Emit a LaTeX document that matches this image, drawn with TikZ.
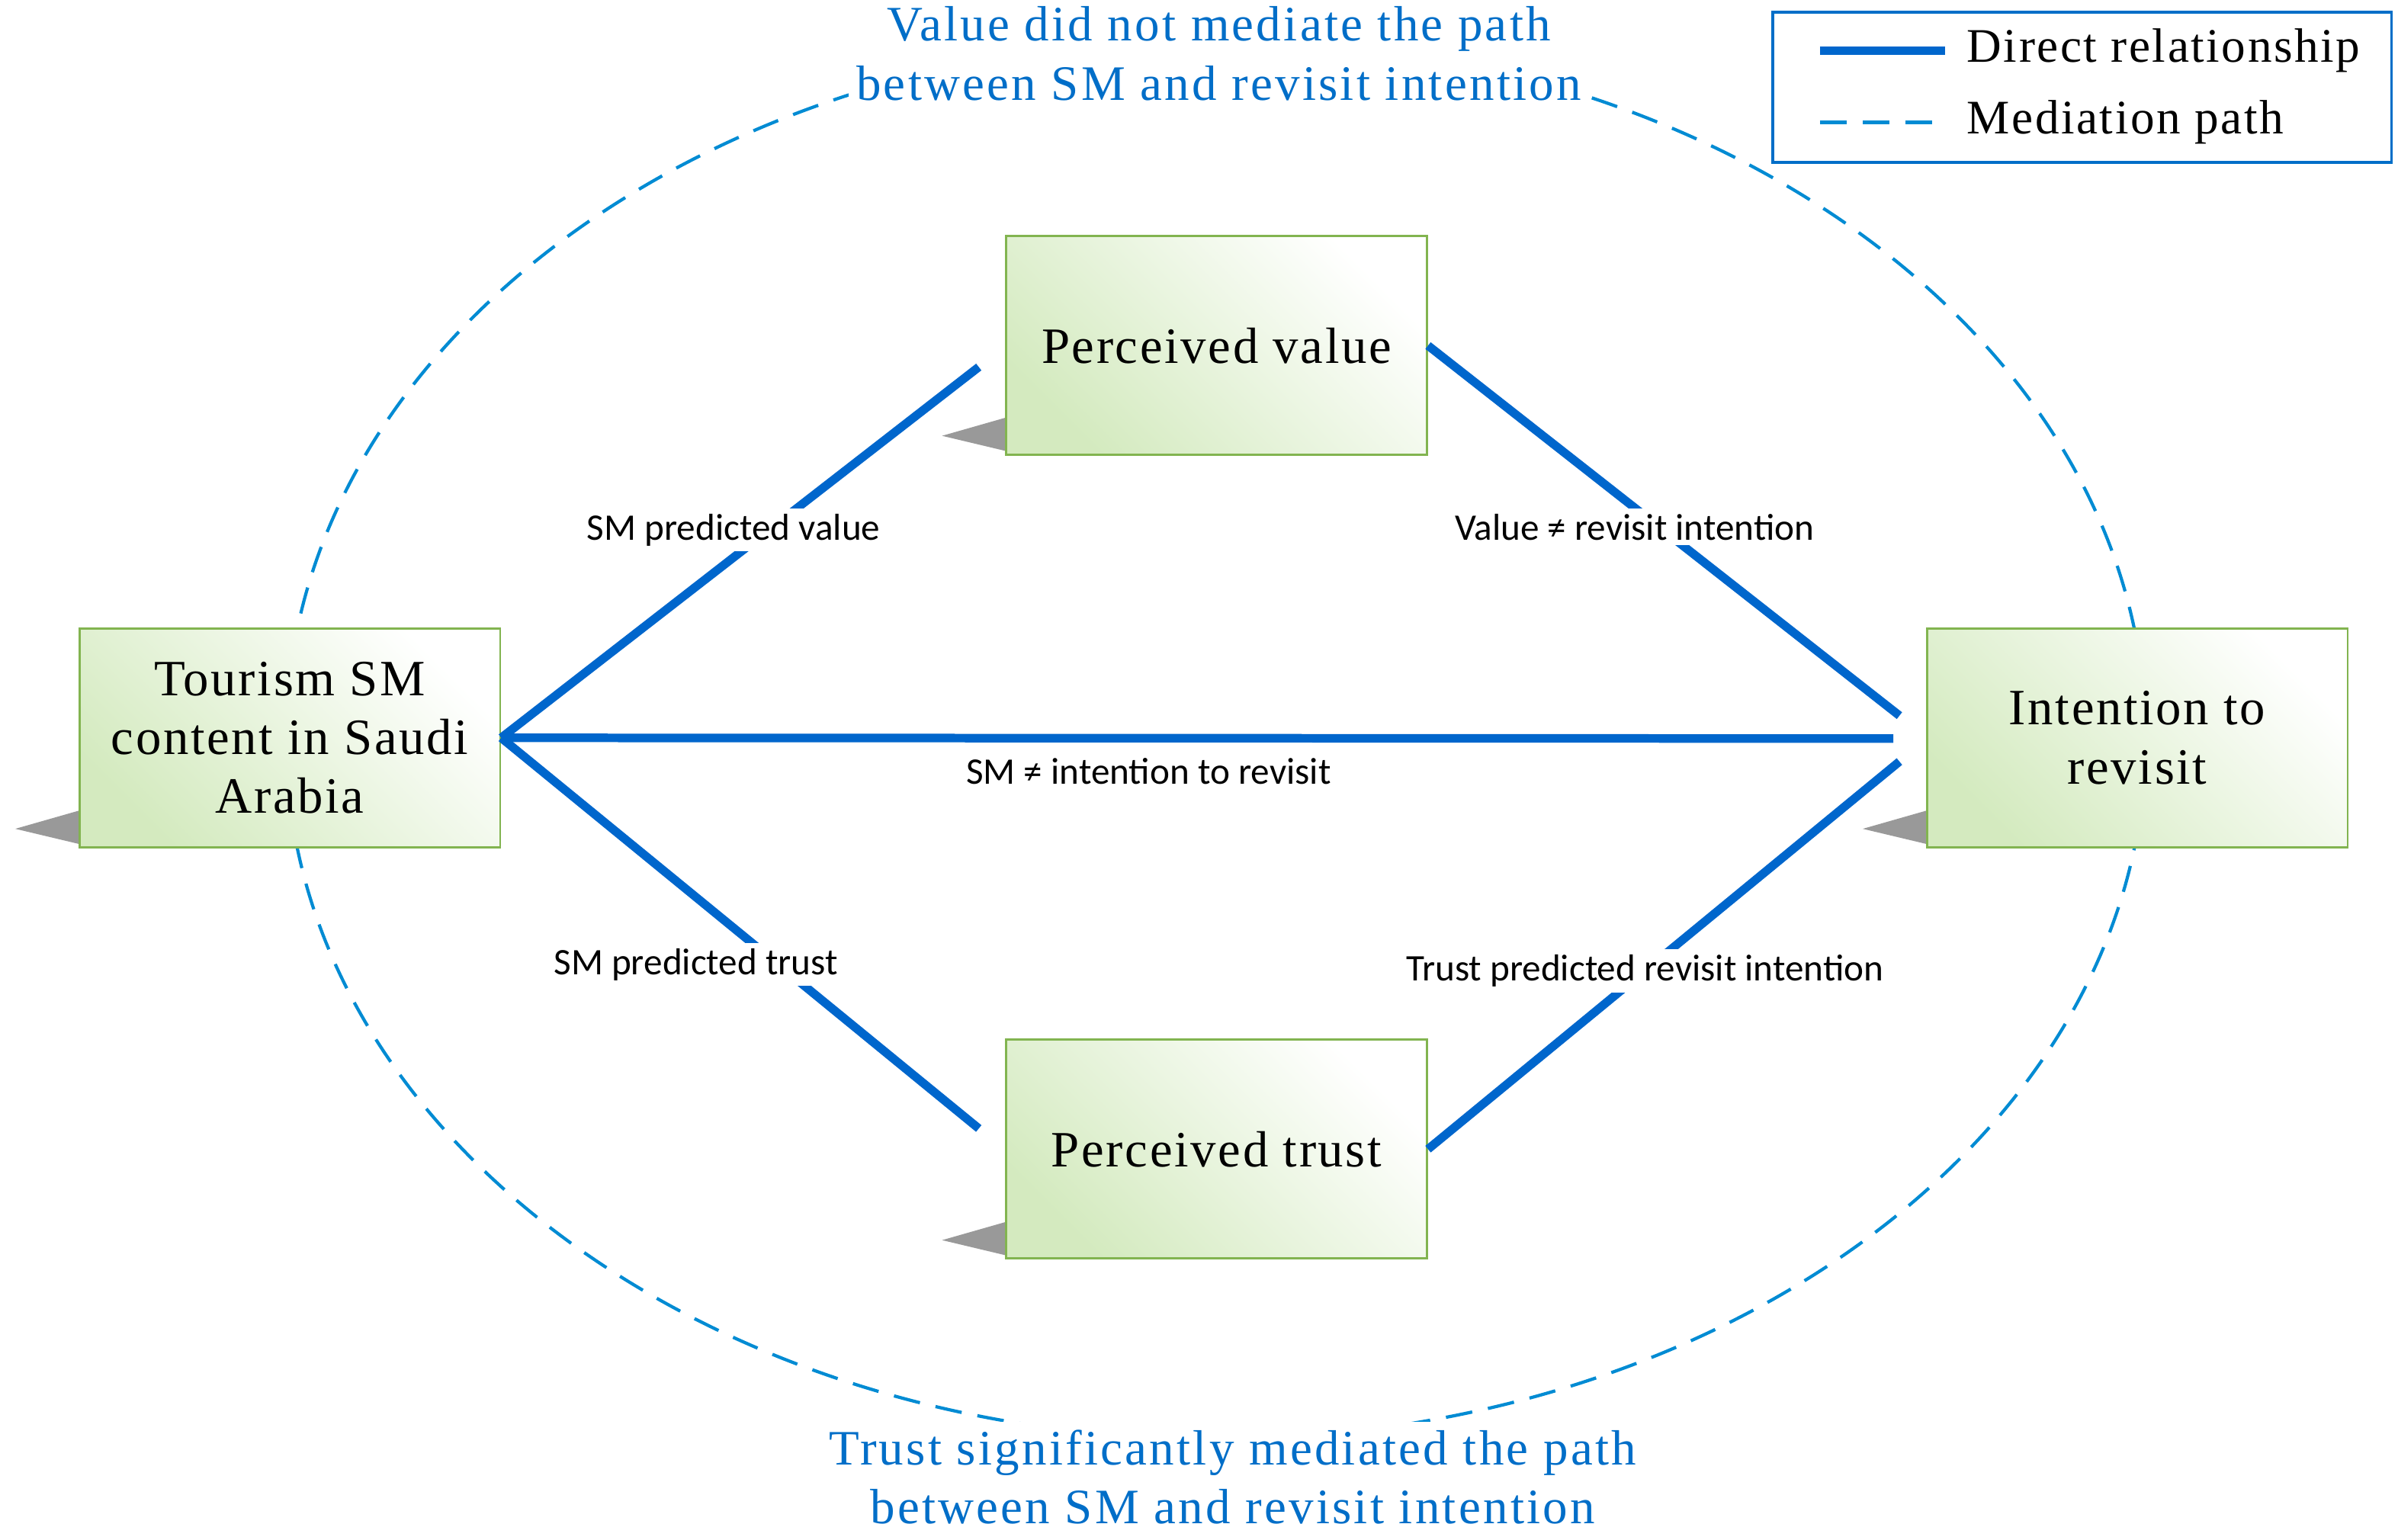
\documentclass[tikz,border=0pt]{standalone}
\usepackage{fontspec}
\setmainfont{Liberation Serif}
\newfontfamily\lab{Carlito}
\definecolor{lb}{RGB}{0,110,200}
\definecolor{db}{RGB}{0,102,204}
\definecolor{bg}{RGB}{130,180,80}
\tikzset{
 box/.style={draw=bg,line width=0.8pt,minimum width=5.52cm,minimum height=2.87cm,align=center,
   shading=axis,left color=green!35!olive!25!white,right color=white,shading angle=135,
   font=\fontsize{19}{22}\selectfont\addfontfeatures{LetterSpace=4}},
 shd/.style={fill=black!40,draw=none},
 rel/.style={draw=db,line width=3.2pt},
 med/.style={draw=lb!80!cyan,line width=1.2pt,dash pattern=on 10pt off 6pt},
 lbl/.style={fill=white,inner sep=2pt,font=\lab\fontsize{14}{17}\selectfont},
 ttl/.style={fill=white,align=center,text=lb,inner sep=3pt,font=\fontsize{18.5}{22}\selectfont\addfontfeatures{LetterSpace=5}}
}
\begin{document}
\begin{tikzpicture}[x=0.02006cm,y=-0.02006cm]
\useasboundingbox (0,0) rectangle (1568,1007);
\draw[med] (795,483) ellipse [x radius=608, y radius=458];
\node[ttl] (t1) at (797,35) {Value did not mediate the path\\between SM and revisit intention};
\node[ttl] (t2) at (806,966) {Trust significantly mediated the path\\between SM and revisit intention};
\foreach \x/\y in {52/554,658/297,1260/554,658/823}{
  \fill[shd] (\x,\y-24) -- (\x-42,\y-12) -- (\x,\y-2) -- cycle;}
\node[box] (a) at (189.5,482.5) {Tourism SM\\content in Saudi\\Arabia};
\node[box] (v) at (795.5,226) {Perceived value};
\node[box] (i) at (1397.5,482.5) {Intention to\\revisit};
\node[box] (t) at (795.5,751.5) {Perceived trust};
\coordinate (vl) at (640,240); \coordinate (il1) at (1242,468);
\coordinate (il2) at (1238,483); \coordinate (il3) at (1242,498);
\coordinate (tl) at (640,738);
\draw[rel] (a.east) -- node[lbl,pos=0.56,xshift=-0.46cm]{SM predicted value} (vl);
\draw[rel] (v.east) -- node[lbl,pos=0.49,xshift=-0.32cm]{Value ≠ revisit intention} (il1);
\draw[rel] (a.east) -- node[lbl,pos=0.465,below=4pt,fill=none]{SM ≠ intention to revisit} (il2);
\draw[rel] (a.east) -- node[lbl,pos=0.58,xshift=-1.08cm]{SM predicted trust} (tl);
\draw[rel] (t.east) -- node[lbl,pos=0.46]{Trust predicted revisit intention} (il3);
\node[draw=lb,line width=1pt,minimum width=8.12cm,minimum height=1.97cm] (lg) at (1361.5,57) {};
\coordinate (l1a) at (1190,33); \coordinate (l1b) at (1272,33);
\coordinate (l2a) at (1190,80); \coordinate (l2b) at (1272,80);
\draw[rel] (l1a) -- (l1b);
\draw[med] (l2a) -- (l2b);
\node[anchor=west,font=\fontsize{18}{22}\selectfont\addfontfeatures{LetterSpace=4}] (lt1) at (1280,33) {Direct relationship};
\node[anchor=west,font=\fontsize{18}{22}\selectfont\addfontfeatures{LetterSpace=4}] (lt2) at (1280,80) {Mediation path};
\end{tikzpicture}
\end{document}
